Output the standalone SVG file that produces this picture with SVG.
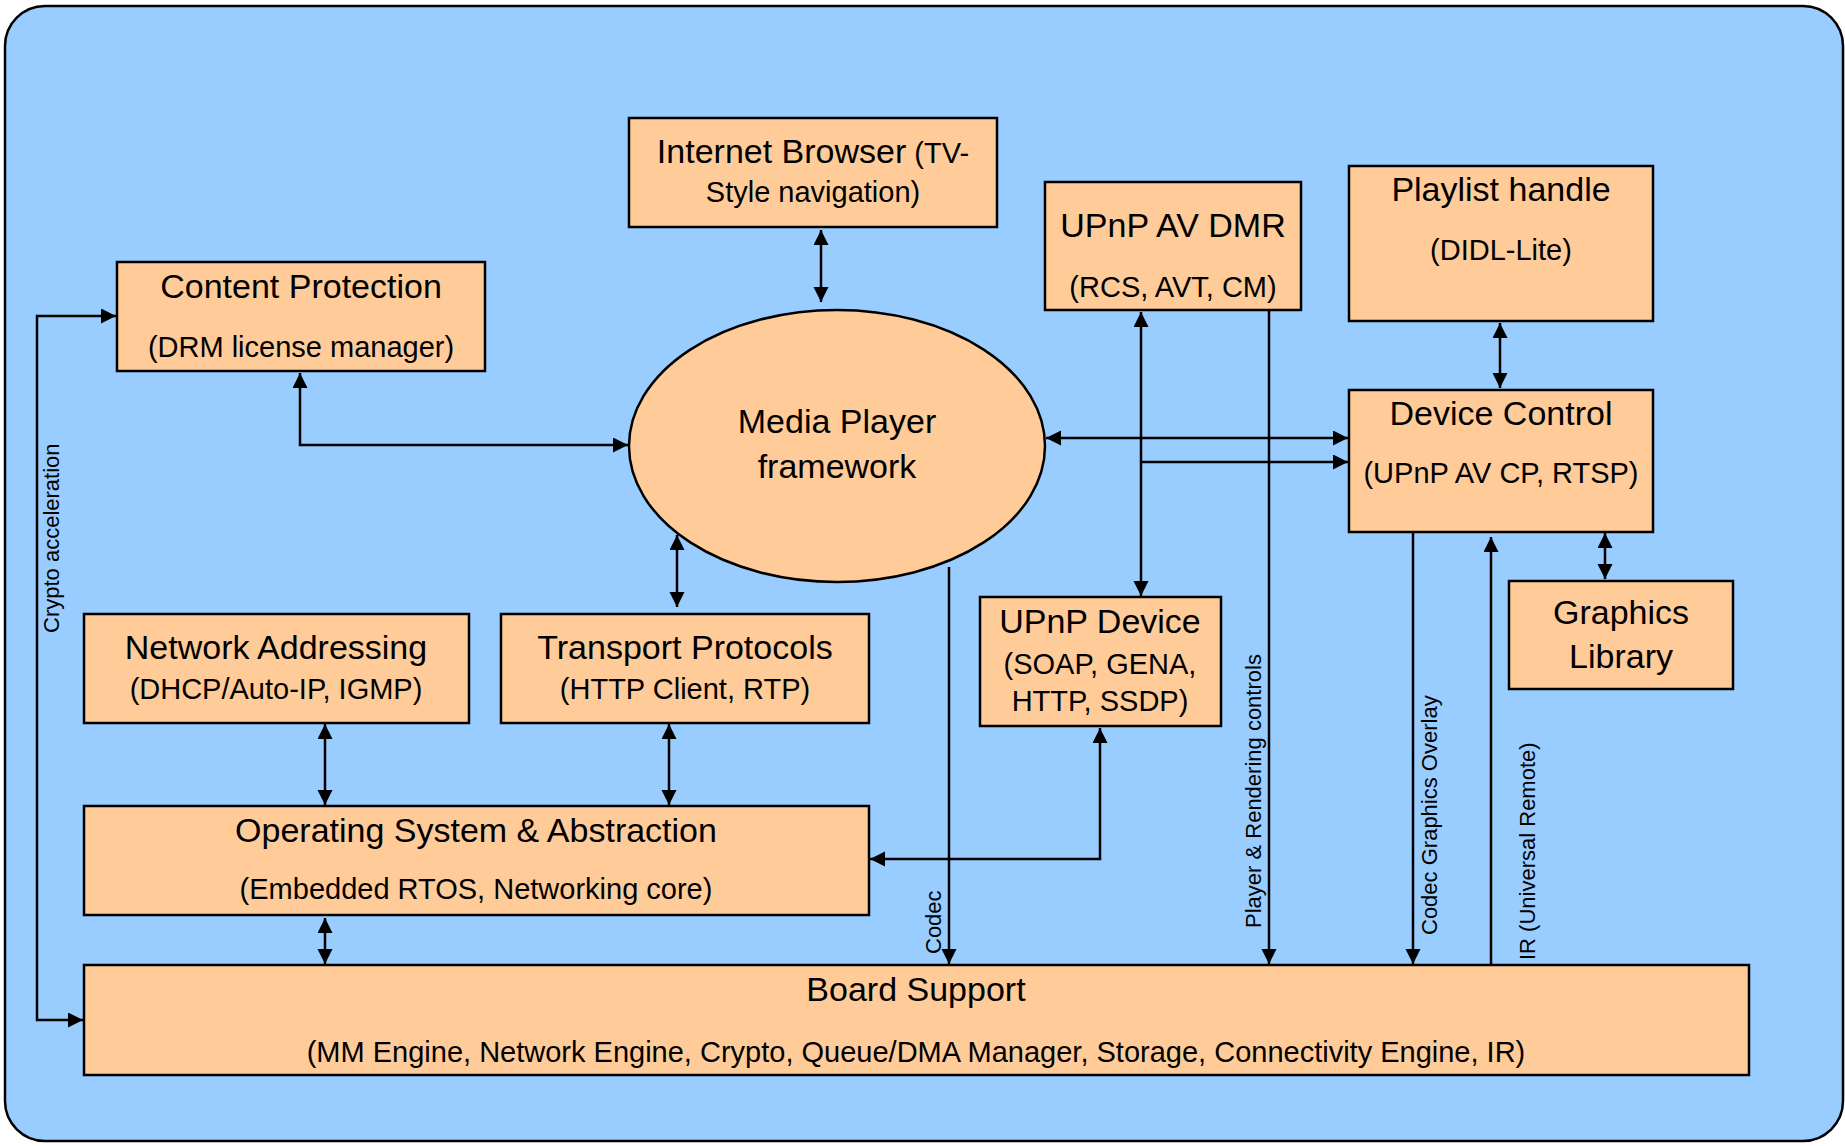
<svg xmlns="http://www.w3.org/2000/svg" width="1845" height="1146" viewBox="0 0 1845 1146">
<style>
.box{fill:#FFCC99;stroke:#000;stroke-width:2.5}
.t{font-family:"Liberation Sans",Arial,sans-serif;font-size:34px;fill:#000;text-anchor:middle}
.s{font-family:"Liberation Sans",Arial,sans-serif;font-size:29px;fill:#000;text-anchor:middle}
.v{font-family:"Liberation Sans",Arial,sans-serif;font-size:22px;fill:#000}
.c{fill:none;stroke:#000;stroke-width:2.5}
</style>
<defs>
<marker id="ah" markerUnits="userSpaceOnUse" markerWidth="16" markerHeight="16" refX="15" refY="7.5" orient="auto-start-reverse" viewBox="0 0 16 16">
<path d="M0,0 L15,7.5 L0,15 z" fill="#000"/>
</marker>
</defs>
<rect x="5" y="6" width="1838" height="1135" rx="40" ry="40" fill="#99CCFF" stroke="#000" stroke-width="2.5"/>

<g id="connectors">
<path class="c" d="M821,230 L821,302" marker-start="url(#ah)" marker-end="url(#ah)"/>
<path class="c" d="M300,373 L300,445 L628,445" marker-start="url(#ah)" marker-end="url(#ah)"/>
<path class="c" d="M677,535 L677,607" marker-start="url(#ah)" marker-end="url(#ah)"/>
<path class="c" d="M1046,438 L1348,438" marker-start="url(#ah)" marker-end="url(#ah)"/>
<path class="c" d="M1141,312 L1141,596" marker-start="url(#ah)" marker-end="url(#ah)"/>
<path class="c" d="M1141,462 L1348,462" marker-end="url(#ah)"/>
<path class="c" d="M1269,310 L1269,964" marker-end="url(#ah)"/>
<path class="c" d="M1500,323 L1500,388" marker-start="url(#ah)" marker-end="url(#ah)"/>
<path class="c" d="M1605,533 L1605,579" marker-start="url(#ah)" marker-end="url(#ah)"/>
<path class="c" d="M1413,532 L1413,964" marker-end="url(#ah)"/>
<path class="c" d="M1491,971 L1491,537" marker-end="url(#ah)"/>
<path class="c" d="M949,567 L949,964" marker-end="url(#ah)"/>
<path class="c" d="M1100,728 L1100,859 L870,859" marker-start="url(#ah)" marker-end="url(#ah)"/>
<path class="c" d="M325,724 L325,805" marker-start="url(#ah)" marker-end="url(#ah)"/>
<path class="c" d="M669,724 L669,805" marker-start="url(#ah)" marker-end="url(#ah)"/>
<path class="c" d="M325,918 L325,964" marker-start="url(#ah)" marker-end="url(#ah)"/>
<path class="c" d="M116,316 L37,316 L37,1020 L83,1020" marker-start="url(#ah)" marker-end="url(#ah)"/>
<text class="v" transform="translate(59,633) rotate(-90)">Crypto acceleration</text>
<text class="v" transform="translate(941,954) rotate(-90)">Codec</text>
<text class="v" transform="translate(1261,928) rotate(-90)">Player &amp; Rendering controls</text>
<text class="v" transform="translate(1437,935) rotate(-90)">Codec Graphics Overlay</text>
<text class="v" transform="translate(1535,960) rotate(-90)">IR (Universal Remote)</text>
</g>

<g id="internet-browser">
<rect class="box" x="629" y="118" width="368" height="109"/>
<text class="t" x="813" y="163">Internet Browser<tspan style="font-size:29px"> (TV-</tspan></text>
<text class="s" x="813" y="202">Style navigation)</text>
</g>

<g id="content-protection">
<rect class="box" x="117" y="262" width="368" height="109"/>
<text class="t" x="301" y="298">Content Protection</text>
<text class="s" x="301" y="357">(DRM license manager)</text>
</g>

<g id="media-player">
<ellipse class="box" cx="837" cy="446" rx="208" ry="136"/>
<text class="t" x="837" y="433">Media Player</text>
<text class="t" x="837" y="478">framework</text>
</g>

<g id="upnp-av-dmr">
<rect class="box" x="1045" y="182" width="256" height="128"/>
<text class="t" x="1173" y="237">UPnP AV DMR</text>
<text class="s" x="1173" y="297">(RCS, AVT, CM)</text>
</g>

<g id="playlist-handle">
<rect class="box" x="1349" y="166" width="304" height="155"/>
<text class="t" x="1501" y="201">Playlist handle</text>
<text class="s" x="1501" y="260">(DIDL-Lite)</text>
</g>

<g id="device-control">
<rect class="box" x="1349" y="390" width="304" height="142"/>
<text class="t" x="1501" y="425">Device Control</text>
<text class="s" x="1501" y="483">(UPnP AV CP, RTSP)</text>
</g>

<g id="graphics-library">
<rect class="box" x="1509" y="581" width="224" height="108"/>
<text class="t" x="1621" y="624">Graphics</text>
<text class="t" x="1621" y="668">Library</text>
</g>

<g id="upnp-device">
<rect class="box" x="980" y="597" width="241" height="129"/>
<text class="t" x="1100" y="633">UPnP Device</text>
<text class="s" x="1100" y="674">(SOAP, GENA,</text>
<text class="s" x="1100" y="711">HTTP, SSDP)</text>
</g>

<g id="network-addressing">
<rect class="box" x="84" y="614" width="385" height="109"/>
<text class="t" x="276" y="659">Network Addressing</text>
<text class="s" x="276" y="699">(DHCP/Auto-IP, IGMP)</text>
</g>

<g id="transport-protocols">
<rect class="box" x="501" y="614" width="368" height="109"/>
<text class="t" x="685" y="659">Transport Protocols</text>
<text class="s" x="685" y="699">(HTTP Client, RTP)</text>
</g>

<g id="operating-system">
<rect class="box" x="84" y="806" width="785" height="109"/>
<text class="t" x="476" y="842">Operating System &amp; Abstraction</text>
<text class="s" x="476" y="899">(Embedded RTOS, Networking core)</text>
</g>

<g id="board-support">
<rect class="box" x="84" y="965" width="1665" height="110"/>
<text class="t" x="916" y="1001">Board Support</text>
<text class="s" x="916" y="1062">(MM Engine, Network Engine, Crypto, Queue/DMA Manager, Storage, Connectivity Engine, IR)</text>
</g>
</svg>
